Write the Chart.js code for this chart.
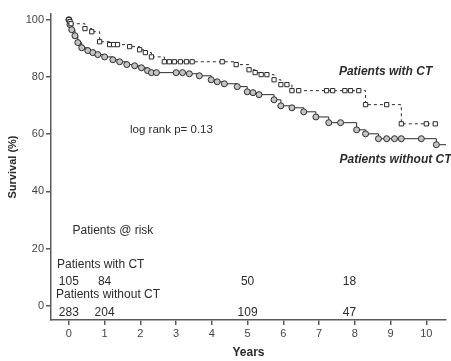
<!DOCTYPE html>
<html>
<head>
<meta charset="utf-8">
<script src="https://cdn.jsdelivr.net/npm/chart.js@4"></script>
<style>
  body { margin: 0; background: #fff; }
  #wrap { width: 451px; height: 361px; }
</style>
</head>
<body>
<div id="wrap"><canvas id="kmChart" width="451" height="361"></canvas></div>
<script>
// Kaplan-Meier curves (years, survival %)
const ctYears = [0, 0.03, 0.06, 0.45, 0.64, 0.86, 1.14, 1.25, 1.36, 1.7, 1.98, 2.14, 2.31, 2.67, 2.81, 2.95, 3.12, 3.29, 3.45, 4.29, 4.68, 5.04, 5.21, 5.38, 5.54, 5.74, 5.93, 6.1, 6.24, 6.43, 7.21, 7.38, 7.72, 7.88, 8.11, 8.3, 8.89, 9.3, 10.0, 10.25];
const ctSurvival = [100, 99.3, 98.6, 96.9, 95.8, 92.3, 91.3, 91.3, 91.3, 90.6, 89.5, 88.5, 87, 85.3, 85.3, 85.3, 85.3, 85.3, 85.3, 85.3, 84.3, 82.5, 81.5, 80.8, 80.8, 79, 77.3, 77.3, 75.2, 75.2, 75.2, 75.2, 75.2, 75.2, 75.2, 70.3, 70.3, 63.6, 63.6, 63.6];

const noCtYears = [0, 0.03, 0.08, 0.17, 0.25, 0.36, 0.53, 0.67, 0.81, 1.0, 1.23, 1.42, 1.62, 1.84, 2.03, 2.2, 2.31, 2.45, 3.0, 3.18, 3.37, 3.65, 3.98, 4.15, 4.35, 4.71, 4.99, 5.15, 5.32, 5.74, 5.93, 6.24, 6.57, 6.91, 7.27, 7.6, 8.05, 8.3, 8.66, 8.89, 9.11, 9.3, 9.86, 10.28, 10.55];
const noCtSurvival = [100, 98.3, 96.5, 94.4, 92, 90.2, 89.2, 88.5, 87.8, 87, 86, 85.3, 84.3, 83.9, 83.2, 82.2, 81.5, 81.5, 81.5, 81.5, 81.1, 80.4, 79, 78.3, 77.6, 76.6, 74.8, 74.5, 73.8, 72, 69.9, 69.2, 67.8, 66, 64, 64, 61.5, 60.1, 58.4, 58.4, 58.4, 58.4, 58.4, 56.3, 56.3];

// patients at risk
const riskYears = [0, 1, 5, 7.85];
const riskWithCT = [105, 84, 50, 18];
const riskWithoutCT = [283, 204, 109, 47];

const toPoints = (xs, ys) => xs.map((x, i) => ({ x: x, y: ys[i] }));
const ink = '#2b2b2b';
const axisGray = '#5a5a5a';

// text annotations placed in data space
const notes = {
  id: 'notes',
  afterDraw(chart) {
    const c = chart.ctx;
    const x = chart.scales.x, y = chart.scales.y;
    const put = (txt, xv, yv, font, align) => {
      c.font = font;
      c.fillStyle = ink;
      c.textAlign = align || 'center';
      c.textBaseline = 'middle';
      c.fillText(txt, x.getPixelForValue(xv), y.getPixelForValue(yv));
    };
    c.save();
    const plain = '12px "Liberation Sans", Arial, sans-serif';
    const bi = 'italic bold 12px "Liberation Sans", Arial, sans-serif';
    put('log rank p= 0.13', 2.87, 61.5, '11.5px "Liberation Sans", Arial, sans-serif');
    put('Patients with CT', 8.86, 81.8, bi);
    put('Patients without CT', 9.14, 51, bi);
    put('Patients @ risk', 0.1, 26.2, plain, 'left');
    put('Patients with CT', -0.33, 14.3, plain, 'left');
    put('Patients without CT', -0.36, 3.8, plain, 'left');
    riskYears.forEach((yr, i) => {
      put(String(riskWithCT[i]), yr, 8.4, plain);
      put(String(riskWithoutCT[i]), yr, -2.4, plain);
    });
    c.restore();
  }
};

new Chart(document.getElementById('kmChart'), {
  type: 'scatter',
  data: {
    datasets: [
      {
        label: 'Patients with CT',
        data: toPoints(ctYears, ctSurvival),
        showLine: true,
        stepped: 'before',
        borderColor: ink,
        borderWidth: 1,
        borderDash: [3, 3],
        pointStyle: 'rect',
        pointRadius: 3,
        pointBorderWidth: 1,
        pointBorderColor: ink,
        pointBackgroundColor: '#ffffff'
      },
      {
        label: 'Patients without CT',
        data: toPoints(noCtYears, noCtSurvival),
        showLine: true,
        stepped: 'before',
        borderColor: ink,
        borderWidth: 1,
        pointStyle: 'circle',
        pointRadius: ctx => ctx.dataIndex === noCtYears.length - 1 ? 0 : 3,
        pointBorderWidth: 1,
        pointBorderColor: ink,
        pointBackgroundColor: '#c4c4c4'
      }
    ]
  },
  options: {
    responsive: false,
    animation: false,
    layout: { padding: { top: 14, right: 2, bottom: 0, left: 0 } },
    plugins: {
      legend: { display: false },
      tooltip: { enabled: false }
    },
    scales: {
      x: {
        type: 'linear',
        min: -0.5,
        max: 10.55,
        afterFit: scale => { scale.height = 41; },
        ticks: {
          stepSize: 1,
          includeBounds: false,
          color: '#444',
          padding: 2,
          font: { size: 11, family: '"Liberation Sans", Arial, sans-serif' }
        },
        grid: { drawOnChartArea: false, drawTicks: true, tickLength: 5, color: axisGray, lineWidth: 1.5 },
        border: { display: true, color: axisGray, width: 1.5 },
        title: {
          display: true,
          text: 'Years',
          color: ink,
          padding: { top: 0, bottom: 1 },
          font: { size: 12, weight: 'bold', family: '"Liberation Sans", Arial, sans-serif' }
        }
      },
      y: {
        type: 'linear',
        min: -5,
        max: 102,
        afterFit: scale => { scale.width = 51; },
        ticks: {
          stepSize: 20,
          includeBounds: false,
          color: '#444',
          padding: 2,
          font: { size: 11, family: '"Liberation Sans", Arial, sans-serif' }
        },
        grid: { drawOnChartArea: false, drawTicks: true, tickLength: 5, color: axisGray, lineWidth: 1.5 },
        border: { display: true, color: axisGray, width: 1.5 },
        title: {
          display: true,
          text: 'Survival (%)',
          color: ink,
          padding: { top: 6, bottom: 0 },
          font: { size: 11, weight: 'bold', family: '"Liberation Sans", Arial, sans-serif' }
        }
      }
    }
  },
  plugins: [notes]
});
</script>
</body>
</html>
